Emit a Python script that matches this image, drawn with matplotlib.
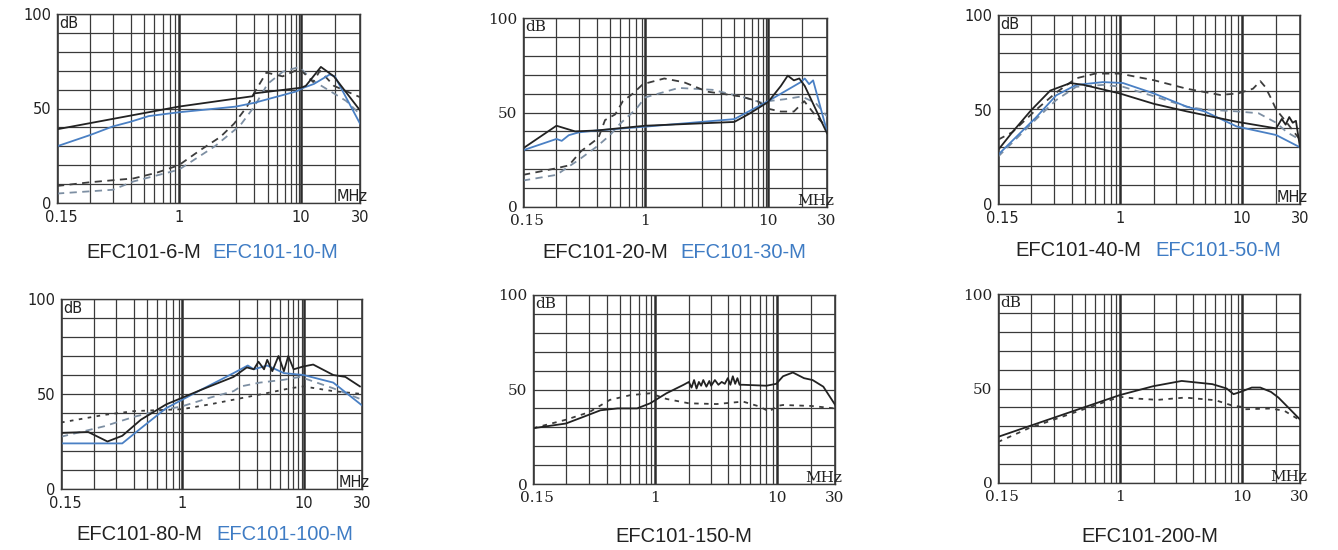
import numpy as np
import matplotlib
matplotlib.use("Agg")
import matplotlib.pyplot as plt
from matplotlib.transforms import ScaledTranslation

# frequency grid lines (MHz) and where the drawn grid puts them (fraction of width)
grid_f = [0.15, 0.2, 0.3, 0.4, 0.5, 0.6, 0.7, 0.8, 0.9, 1, 2, 3, 4, 5, 6, 7, 8, 9, 10, 20, 30]
pos_a = [0, .110, .184, .243, .286, .319, .349, .373, .391, .402, .590, .651, .695,
         .727, .753, .772, .789, .800, .806, .917, 1]
pos_b = [0, .109, .186, .245, .288, .322, .350, .375, .391, .403, .516, .590, .645,
         .684, .720, .750, .773, .795, .808, .921, 1]

# ---- EFC101-6-M / EFC101-10-M
p1_a_x = [0.15, 1, 2.9, 3.0, 10, 11, 15, 19.6, 30]
p1_a_y = [39, 51, 56.5, 58, 61, 62, 72, 67, 49]
p1_b_x = [0.15, 0.2, 0.3, 0.4, 0.55, 1, 2, 3, 8, 10.5, 13, 18, 20, 30]
p1_b_y = [30, 36, 40.5, 43, 46, 48, 51, 53, 59, 61, 63, 68, 67, 42]
p1_c_x = [0.15, 0.2, 0.42, 0.63, 1, 1.3, 1.66, 1.96, 2.56, 3.05, 3.9, 5.66, 9, 12.8, 14.7, 19.6, 30]
p1_c_y = [9, 11, 13, 16, 20, 28, 35, 42, 51, 59, 69, 67, 71, 64, 70, 62, 56]
p1_d_x = [0.15, 0.3, 0.42, 1, 1.55, 2.2, 3.0, 4.0, 5.7, 9, 12.5, 19.6, 24, 30]
p1_d_y = [5, 7, 11.4, 17.6, 30, 41, 51, 63, 69.5, 72, 65, 58, 54, 47]

# ---- EFC101-20-M / EFC101-30-M
p2_a_x = [0.15, 0.2, 0.28, 0.4, 1, 4, 5.5, 10, 13, 15, 17, 19, 21, 30]
p2_a_y = [31, 43, 40, 40.5, 43, 45, 49, 55.5, 64, 69.5, 67, 68, 64, 39]
p2_b_x = [0.15, 0.2, 0.22, 0.25, 0.3, 0.4, 1, 4, 10, 19.5, 21, 22.5, 24, 30]
p2_b_y = [30, 36, 35, 38, 39.5, 40.5, 42.5, 46.5, 56, 66, 68, 65, 67, 40]
p2_c_x = [0.15, 0.2, 0.25, 0.31, 0.41, 0.46, 0.55, 0.63, 0.75, 0.93, 1.26, 1.6, 2.24, 3,
          4.65, 7, 10, 13, 17, 20.8, 24.6, 30]
p2_c_y = [17, 20.5, 22, 29.5, 36.5, 46, 49, 56, 60, 65, 68, 66, 61, 60, 58.5, 56, 52, 50.5,
          50.5, 56, 49, 42]
p2_d_x = [0.15, 0.2, 0.3, 0.4, 0.5, 0.6, 0.8, 1, 1.5, 2.5, 5, 8, 10, 14, 20, 25, 30]
p2_d_y = [14, 17, 25, 32, 38, 44, 52, 58, 63, 62, 58, 55, 56, 57, 58.5, 55, 48]

# ---- EFC101-40-M / EFC101-50-M
p3_a_x = [0.15, 0.17, 0.2, 0.28, 0.39, 0.49, 1, 2, 3.6, 8.8, 20, 22, 23.5, 25, 26.5, 28, 30]
p3_a_y = [28.5, 38, 49.5, 60, 64, 63, 58.5, 53, 49, 43.5, 40, 45, 42, 46, 43, 44, 30]
p3_b_x = [0.15, 0.22, 0.31, 0.43, 0.69, 1.07, 2, 3.6, 5, 8.8, 20, 30]
p3_b_y = [26, 46, 57.5, 63, 64.5, 64, 58.5, 51.5, 49, 41, 36.5, 30]
p3_c_x = [0.15, 0.17, 0.22, 0.31, 0.43, 0.6, 1, 2, 3.6, 6.5, 9, 12.5, 14.5, 16, 18, 20, 24, 30]
p3_c_y = [34, 38, 50, 59, 66.5, 69, 69, 65.5, 61, 57.7, 58.5, 61, 65, 62, 56, 50, 43, 34]
p3_d_x = [0.15, 0.22, 0.31, 0.43, 0.69, 1.07, 2, 3.6, 5, 8.8, 14, 20, 24, 30]
p3_d_y = [25, 45, 55, 62, 63, 62, 57, 51.5, 50, 49, 48, 43, 38, 34]

# ---- EFC101-80-M / EFC101-100-M
p4_a_x = [0.15, 0.19, 0.255, 0.33, 0.45, 0.7, 1.25, 1.88, 2.4, 2.8, 3.1, 3.5, 3.75, 4.2,
          4.85, 5.5, 6.1, 7.05, 9.9, 12.2, 18.5, 22.9, 29]
p4_a_y = [29.5, 30, 25, 28, 36.5, 44.5, 52, 59, 64, 63, 67, 63, 68, 62, 70, 62, 70, 63,
          64.5, 65.5, 60, 59, 54]
p4_b_x = [0.15, 0.33, 0.45, 0.7, 1.25, 1.88, 2.45, 2.8, 3.75, 5.5, 9.9, 18.5, 30]
p4_b_y = [24, 24, 32, 42.5, 52, 61, 65, 63, 65, 61, 60, 56, 44]
p4_c_x = [0.15, 0.24, 0.4, 1, 1.4, 1.88, 3.75, 6.4, 9.9, 18.5, 30]
p4_c_y = [35, 39, 41, 42, 44.5, 47, 50.5, 53, 54, 51.5, 50]
p4_d_x = [0.15, 0.24, 0.4, 0.6, 1, 1.4, 1.88, 2.1, 3.2, 5.5, 8.5, 18.5, 30]
p4_d_y = [27.5, 33, 38, 41, 43.5, 48, 51.5, 54, 56, 57.5, 59, 53, 47]

# ---- EFC101-150-M
p5_a_x = [0.15, 0.2, 0.273, 0.36, 0.48, 0.68, 0.88, 1.27, 1.8, 2.0, 2.1, 2.2, 2.3, 2.4, 2.5,
          2.6, 2.75, 2.9, 3.0, 3.2, 3.4, 3.6, 3.8, 4.0, 4.2, 4.4, 4.6, 4.8, 5.0, 5.3, 8,
          9.8, 11.3, 13.8, 17.3, 20.5, 24.6, 30]
p5_a_y = [29.5, 32, 35.6, 39, 40, 40, 42.7, 48, 52.5, 54, 51, 55, 50.5, 54, 52, 55, 51.5,
          54.5, 52, 55, 52.5, 54, 53, 56, 52.5, 57, 53, 56, 52.5, 52.5, 52, 53, 57, 59,
          56, 55, 51.5, 42]
p5_b_x = [0.15, 0.2, 0.3, 0.42, 0.6, 0.88, 1.27, 2, 3.3, 5.3, 7, 8.4, 10, 11.3, 20, 30]
p5_b_y = [29.5, 34, 38, 44.5, 47, 48, 45, 42.7, 42.3, 43.6, 41, 38.3, 41.3, 41.8, 41.3, 40]

# ---- EFC101-200-M
p6_a_x = [0.15, 1, 1.97, 3.3, 5.7, 7.3, 8.3, 9.6, 12.2, 14.5, 18, 20.8, 25, 30]
p6_a_y = [24.4, 46.5, 51.2, 54, 52.3, 50, 47, 48.2, 50.5, 50.5, 48.2, 45.2, 39.4, 33.6]
p6_b_x = [0.15, 0.195, 1, 1.37, 2.15, 3.5, 6, 8.1, 9.8, 10.2, 18, 23, 30]
p6_b_y = [21.7, 28.8, 45.6, 44.7, 44, 45.2, 43.8, 41, 40.3, 39, 39.4, 38.2, 33.2]

BLACK = "#222222"
BLUE = "#4a80c4"
DGRAY = "#3c3c3c"
LGRAY = "#7d8fa3"
TXTBLUE = "#3f7cc4"

W, H = 1338, 550
fig = plt.figure(figsize=(W / 100, H / 100), dpi=100)

panels = [
    # box (left, top, right, bottom) px, grid, font, curves, captions
    dict(box=(57, 14, 360, 203), pos=pos_a, font="DejaVu Sans",
         curves=[(p1_d_x, p1_d_y, LGRAY, (0, (4, 3))), (p1_c_x, p1_c_y, DGRAY, (0, (4, 3))),
                 (p1_b_x, p1_b_y, BLUE, "-"), (p1_a_x, p1_a_y, BLACK, "-")],
         cap=[("EFC101-6-M", BLACK, 201, "right"), ("EFC101-10-M", TXTBLUE, 212, "left")], cy=252),
    dict(box=(523, 18, 827, 207), pos=pos_a, font="DejaVu Serif",
         curves=[(p2_d_x, p2_d_y, LGRAY, (0, (4, 3))), (p2_c_x, p2_c_y, DGRAY, (0, (4, 3))),
                 (p2_b_x, p2_b_y, BLUE, "-"), (p2_a_x, p2_a_y, BLACK, "-")],
         cap=[("EFC101-20-M", BLACK, 668, "right"), ("EFC101-30-M", TXTBLUE, 680, "left")], cy=252),
    dict(box=(998, 15, 1300, 204), pos=pos_b, font="DejaVu Sans",
         curves=[(p3_d_x, p3_d_y, LGRAY, (0, (4, 3))), (p3_c_x, p3_c_y, DGRAY, (0, (4, 3))),
                 (p3_b_x, p3_b_y, BLUE, "-"), (p3_a_x, p3_a_y, BLACK, "-")],
         cap=[("EFC101-40-M", BLACK, 1141, "right"), ("EFC101-50-M", TXTBLUE, 1155, "left")], cy=250),
    dict(box=(61, 299, 362, 489), pos=pos_a, font="DejaVu Sans",
         curves=[(p4_d_x, p4_d_y, LGRAY, (0, (4, 3))), (p4_c_x, p4_c_y, DGRAY, (0, (2, 3))),
                 (p4_b_x, p4_b_y, BLUE, "-"), (p4_a_x, p4_a_y, BLACK, "-")],
         cap=[("EFC101-80-M", BLACK, 202, "right"), ("EFC101-100-M", TXTBLUE, 216, "left")], cy=535),
    dict(box=(533, 295, 835, 484), pos=pos_b, font="DejaVu Serif",
         curves=[(p5_b_x, p5_b_y, DGRAY, (0, (2.5, 3))), (p5_a_x, p5_a_y, BLACK, "-")],
         cap=[("EFC101-150-M", BLACK, 684, "center")], cy=537),
    dict(box=(998, 294, 1300, 483), pos=pos_b, font="DejaVu Serif",
         curves=[(p6_b_x, p6_b_y, DGRAY, (0, (2.5, 3))), (p6_a_x, p6_a_y, BLACK, "-")],
         cap=[("EFC101-200-M", BLACK, 1150, "center")], cy=537),
]

lf = np.log10(grid_f)

for p in panels:
    l, t, r, b = p["box"]
    ax = fig.add_axes([l / W, 1 - b / H, (r - l) / W, (b - t) / H])
    pos = np.array(p["pos"])

    def fwd(x, pos=pos):
        x = np.clip(np.asarray(x, dtype=float), 1e-6, None)
        return np.interp(np.log10(x), lf, pos)

    def inv(v, pos=pos):
        return 10 ** np.interp(v, pos, lf)

    ax.set_xscale("function", functions=(fwd, inv))
    ax.set_xlim(0.15, 30)
    ax.set_ylim(0, 100)

    ax.set_xticks([0.15, 1, 10, 30])
    ax.set_xticklabels(["0.15", "1", "10", "30"])
    ax.set_xticks([0.2, 0.3, 0.4, 0.5, 0.6, 0.7, 0.8, 0.9, 2, 3, 4, 5, 6, 7, 8, 9, 20], minor=True)
    ax.set_yticks([0, 50, 100])
    ax.set_yticks(range(10, 100, 10), minor=True)
    ax.tick_params(which="both", length=0)
    ax.tick_params(axis="x", pad=5)
    ax.tick_params(axis="y", pad=4)
    fs = 10.5 if p["font"] == "DejaVu Sans" else 11
    for lab in ax.get_xticklabels() + ax.get_yticklabels():
        lab.set_fontfamily(p["font"])
        lab.set_fontsize(fs)
        lab.set_color("#222222")
    # "0.15" sits a little right of the left edge
    first = ax.get_xticklabels()[0]
    first.set_transform(first.get_transform() + ScaledTranslation(0.04, 0, fig.dpi_scale_trans))

    ax.grid(True, which="minor", color="#3a3a3a", lw=0.9)
    ax.grid(True, which="major", axis="y", color="#3a3a3a", lw=0.9)
    ax.grid(True, which="major", axis="x", color="#2c2c2c", lw=1.8)
    ax.set_axisbelow(True)
    for s in ax.spines.values():
        s.set_color("#3a3a3a")
        s.set_linewidth(1.0)

    for xs, ys, c, ls in p["curves"]:
        ax.plot(xs, ys, color=c, ls=ls, lw=1.3)

    ax.text(0.006, 0.99, "dB", transform=ax.transAxes, ha="left", va="top",
            fontsize=fs, family=p["font"], color="#222222")
    ax.text(1.025, -0.005, "MHz", transform=ax.transAxes, ha="right", va="bottom",
            fontsize=fs, family=p["font"], color="#222222", clip_on=False)

    for txt, col, x, ha in p["cap"]:
        fig.text(x / W, 1 - p["cy"] / H, txt, ha=ha, va="center", color=col,
                 fontsize=14.5, family="Liberation Sans")

fig.savefig("out.png", dpi=100, facecolor="white")
